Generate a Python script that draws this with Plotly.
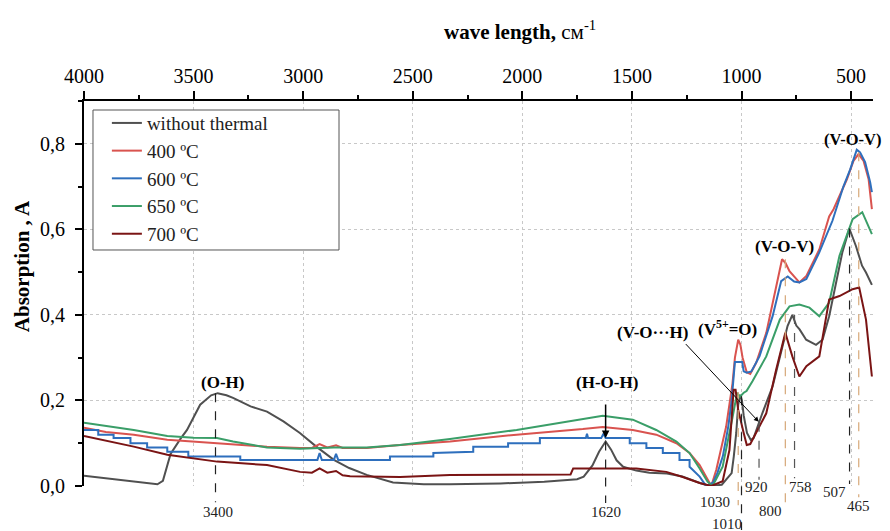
import plotly.graph_objects as go

# ---------------- data ----------------
wn_gray = [4000, 3900, 3800, 3700, 3665, 3640, 3605, 3560, 3530, 3470, 3420, 3390, 3350, 3320,
           3240, 3165, 3090, 3015, 2940, 2860, 2790, 2710, 2590, 2450, 2330, 2100, 1900, 1750,
           1720, 1680, 1650, 1620, 1595, 1570, 1540, 1480, 1420, 1340, 1270, 1190, 1145, 1090,
           1045, 1035, 1024, 1015, 1006, 998, 990, 975, 958, 945, 919, 905, 858, 813, 790, 768,
           750, 735, 705, 660, 630, 600, 570, 540, 508, 478, 450, 432, 405]
a_gray = [0.024, 0.018, 0.012, 0.006, 0.004, 0.012, 0.075, 0.110, 0.131, 0.190, 0.212, 0.217, 0.212, 0.206,
          0.186, 0.174, 0.151, 0.124, 0.092, 0.061, 0.042, 0.026, 0.008, 0.004, 0.004, 0.006, 0.010, 0.016,
          0.022, 0.048, 0.080, 0.104, 0.085, 0.060, 0.045, 0.036, 0.031, 0.029, 0.022, 0.007, 0.000, 0.003,
          0.030, 0.070, 0.124, 0.190, 0.213, 0.200, 0.165, 0.124, 0.108, 0.112, 0.150, 0.170, 0.233, 0.327, 0.374, 0.400,
          0.375, 0.366, 0.342, 0.330, 0.342, 0.397, 0.476, 0.546, 0.602, 0.561, 0.515, 0.499, 0.470]

wn_400 = [4000, 3900, 3773, 3620, 3393, 3165, 3014, 2960, 2925, 2890, 2850, 2820, 2710, 2558, 2330,
          2026, 1724, 1633, 1496, 1389, 1297, 1237, 1191, 1155, 1138, 1115, 1070, 1041, 1030, 1015,
          1005, 995, 976, 960, 933, 887, 842, 815, 800, 781, 736, 704, 645, 600, 580, 550, 519,
          489, 466, 443, 420, 405]
a_400 = [0.136, 0.126, 0.120, 0.108, 0.100, 0.092, 0.089, 0.089, 0.098, 0.090, 0.095, 0.089, 0.089, 0.096, 0.104,
         0.120, 0.133, 0.138, 0.131, 0.120, 0.100, 0.077, 0.049, 0.014, 0.000, 0.038, 0.139, 0.240, 0.300, 0.342,
         0.330, 0.300, 0.266, 0.262, 0.288, 0.358, 0.467, 0.530, 0.522, 0.502, 0.476, 0.491, 0.553, 0.630, 0.647, 0.682, 0.717,
         0.760, 0.776, 0.760, 0.717, 0.647]

wn_600 = [4000, 3935, 3935, 3865, 3865, 3788, 3788, 3712, 3712, 3620, 3620, 3524, 3524, 3287, 3287,
          2935, 2925, 2915, 2860, 2850, 2840, 2604, 2604, 2406, 2406, 2224, 2224, 2065, 2065, 1920,
          1920, 1710, 1705, 1700, 1640, 1630, 1620, 1510, 1510, 1434, 1434, 1359, 1359, 1283, 1283,
          1237, 1237, 1191, 1161, 1130, 1110, 1085, 1060, 1045, 1035, 1030, 997, 990, 976, 955, 918,
          858, 819, 789, 760, 736, 704, 645, 585, 535, 504, 474, 459, 436, 413, 405]
a_600 = [0.131, 0.131, 0.120, 0.120, 0.112, 0.112, 0.100, 0.100, 0.090, 0.090, 0.080, 0.080, 0.069, 0.069, 0.061,
         0.061, 0.077, 0.061, 0.061, 0.075, 0.061, 0.061, 0.069, 0.069, 0.077, 0.080, 0.092, 0.092, 0.100, 0.100,
         0.112, 0.112, 0.122, 0.112, 0.112, 0.122, 0.112, 0.112, 0.100, 0.100, 0.089, 0.089, 0.077, 0.077, 0.061,
         0.061, 0.045, 0.022, 0.000, 0.008, 0.030, 0.070, 0.140, 0.200, 0.260, 0.290, 0.290, 0.268, 0.265, 0.268, 0.303,
         0.397, 0.479, 0.490, 0.478, 0.476, 0.484, 0.546, 0.620, 0.700, 0.740, 0.786, 0.780, 0.757, 0.710, 0.687]

wn_650 = [4000, 3773, 3620, 3500, 3393, 3320, 3165, 3014, 2860, 2710, 2558, 2330, 2026, 1724, 1633,
          1496, 1389, 1297, 1237, 1191, 1155, 1132, 1086, 1041, 1020, 1007, 990, 977, 950, 887, 825, 781, 736,
          690, 645, 600, 553, 493, 449, 405]
a_650 = [0.148, 0.131, 0.117, 0.113, 0.112, 0.104, 0.090, 0.087, 0.090, 0.090, 0.096, 0.110, 0.131, 0.155, 0.164,
         0.155, 0.131, 0.104, 0.077, 0.041, 0.010, 0.000, 0.045, 0.160, 0.218, 0.209, 0.218, 0.222, 0.245, 0.303, 0.389, 0.420, 0.424,
         0.417, 0.397, 0.429, 0.538, 0.624, 0.640, 0.589]

wn_700 = [4000, 3773, 3620, 3393, 3165, 3014, 2960, 2925, 2890, 2850, 2820, 2786, 2558, 2330, 1780,
          1768, 1480, 1343, 1268, 1191, 1138, 1086, 1055, 1036, 1027, 1015, 990, 976, 960, 933,
          887, 842, 800, 768, 736, 704, 645, 600, 553, 493, 463, 432, 405]
a_700 = [0.117, 0.092, 0.073, 0.057, 0.049, 0.033, 0.031, 0.041, 0.031, 0.035, 0.025, 0.023, 0.021, 0.026, 0.027,
         0.041, 0.041, 0.033, 0.021, 0.007, 0.000, 0.011, 0.084, 0.225, 0.225, 0.178, 0.124, 0.096, 0.098, 0.124,
         0.170, 0.272, 0.358, 0.303, 0.256, 0.280, 0.303, 0.436, 0.444, 0.460, 0.464, 0.389, 0.256]

series_names = ["without thermal", "400 ºC", "600 ºC", "650 ºC", "700 ºC"]
series_colors = ["#505050", "#d9534f", "#2e6fbd", "#3a9e68", "#7a1414"]

# band positions marked with dashed drop lines: wavenumber, top absorbance, bottom (paper), colour
mark_wn = [3400, 1620, 1015, 1000, 920, 800, 758, 507, 465]
mark_top = [0.217, 0.104, 0.220, 0.210, 0.148, 0.530, 0.400, 0.602, 0.780]
mark_bottom = [-0.042, -0.044, -0.050, -0.114, 0.016, -0.062, 0.020, 0.005, -0.029]
mark_color = ["#222222", "#222222", "#d6a878", "#222222", "#555555", "#d6a878", "#555555", "#222222", "#d6a878"]

# number labels under the lines: text, x (wavenumber), y (paper)
num_text = ["3400", "1620", "1030", "1010", "920", "800", "758", "507", "465"]
num_x = [3390, 1620, 1123, 1068, 932, 868, 731, 576, 467]
num_y = [-0.068, -0.067, -0.041, -0.099, -0.003, -0.065, -0.003, -0.016, -0.052]

# band names: text, x (wavenumber), y (absorbance)
band_text = ["(O-H)", "(H-O-H)", "(V-O\u00b7\u00b7\u00b7H)", "(V<sup>5+</sup>=O)", "(V-O-V)", "(V-O-V)"]
band_x = [3370, 1614, 1408, 1062, 806, 492]
band_y = [0.241, 0.243, 0.358, 0.369, 0.561, 0.811]

YMAX = 0.9
FONT = "Liberation Serif"

fig = go.Figure()
for name, xs, ys, col in zip(series_names,
                             [wn_gray, wn_400, wn_600, wn_650, wn_700],
                             [a_gray, a_400, a_600, a_650, a_700],
                             series_colors):
    fig.add_trace(go.Scatter(x=xs, y=ys, name=name, mode="lines",
                             line=dict(color=col, width=2)))

shapes = []
for w, top, bot, col in zip(mark_wn, mark_top, mark_bottom, mark_color):
    shapes.append(dict(type="line", xref="x", yref="paper", x0=w, x1=w,
                       y0=top / YMAX, y1=bot, line=dict(color=col, width=1.2, dash="dash")))
# legend frame
shapes.append(dict(type="rect", xref="paper", yref="paper", x0=0.0114, x1=0.3232, y0=0.613, y1=0.9766,
                   line=dict(color="#555", width=1), fillcolor="white", layer="above"))

annotations = []
for t, x, y in zip(num_text, num_x, num_y):
    annotations.append(dict(text=t, x=x, y=y, xref="x", yref="paper", showarrow=False,
                            xanchor="center", yanchor="middle",
                            font=dict(family=FONT, size=15, color="#222")))
for i, (t, x, y) in enumerate(zip(band_text, band_x, band_y)):
    annotations.append(dict(text="<b>" + t + "</b>", x=x, y=y, xref="x", yref="y", showarrow=False,
                            xanchor="center", yanchor="middle",
                            font=dict(family=FONT, size=16.5 if i == 5 else 17, color="black")))

# arrows
annotations.append(dict(text=" ", x=1620, y=0.112, xref="x", yref="y", showarrow=True,
                        ax=0, ay=-46, arrowhead=2, arrowsize=1, arrowwidth=1.5, arrowcolor="black",
                        standoff=0))
annotations.append(dict(text=" ", x=921, y=0.150, xref="x", yref="y", showarrow=True,
                        ax=-77, ay=-82, arrowhead=2, arrowsize=1, arrowwidth=1, arrowcolor="black",
                        standoff=0))

# axis titles
annotations.append(dict(text="<b>wave length,</b> см<sup>-1</sup>", x=0.553, y=1.184,
                        xref="paper", yref="paper", showarrow=False,
                        xanchor="center", yanchor="middle",
                        font=dict(family=FONT, size=21, color="black")))
annotations.append(dict(text="<b>Absorption , A</b>", x=-0.0786, y=0.571, textangle=-90,
                        xref="paper", yref="paper", showarrow=False,
                        xanchor="center", yanchor="middle",
                        font=dict(family=FONT, size=21, color="black")))

fig.update_layout(
    width=882, height=523,
    margin=dict(l=76, r=17, t=93, b=45),
    paper_bgcolor="white", plot_bgcolor="white",
    font=dict(family=FONT, size=20, color="black"),
    separators=",.",
    legend=dict(x=0.029, y=0.992, xanchor="left", yanchor="top",
                borderwidth=0, bgcolor="rgba(0,0,0,0)",
                font=dict(family=FONT, size=19, color="#222"),
                tracegroupgap=0),
    xaxis=dict(side="top", range=[4000, 400], autorange=False, tick0=0, dtick=500,
               ticks="outside", ticklen=8, tickwidth=1.5, tickcolor="black",
               showline=True, linecolor="black", linewidth=2,
               showgrid=True, gridcolor="#c8c8c8", griddash="dot", gridwidth=1,
               zeroline=False, tickfont=dict(size=20),
               minor=dict(dtick=250, ticks="outside", ticklen=4, tickwidth=1.5,
                          tickcolor="black", showgrid=False)),
    yaxis=dict(range=[0, YMAX], autorange=False, tick0=0, dtick=0.2, tickformat=".1f",
               ticks="outside", ticklen=7, tickwidth=1.5, tickcolor="black",
               showline=True, linecolor="black", linewidth=2,
               showgrid=True, gridcolor="#c8c8c8", griddash="dot", gridwidth=1,
               zeroline=False, tickfont=dict(size=20), ticklabelstandoff=6,
               minor=dict(dtick=0.1, ticks="outside", ticklen=4, tickwidth=1.5,
                          tickcolor="black", showgrid=False)),
    shapes=shapes,
    annotations=annotations,
)

fig.write_html("out.html")
